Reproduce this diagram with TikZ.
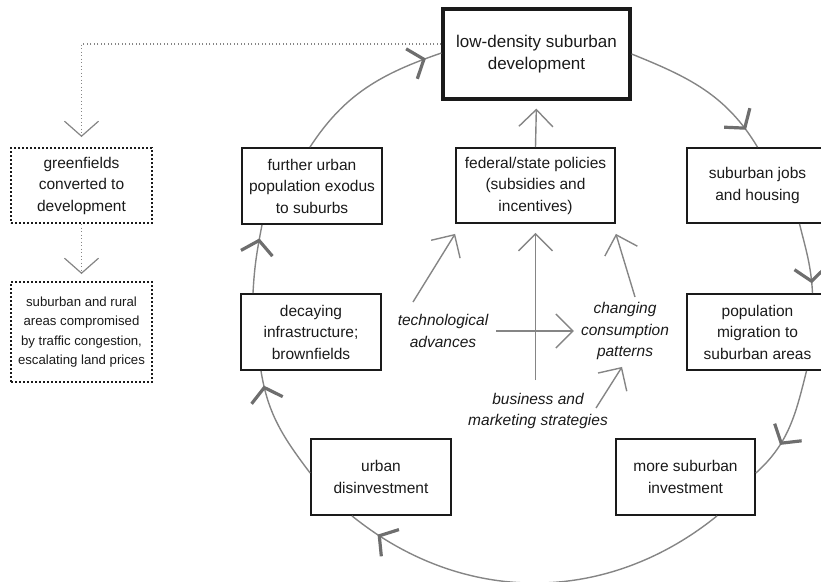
\documentclass[tikz,border=0pt]{standalone}
\usepackage{fontspec}
\setmainfont{Liberation Sans}
\usetikzlibrary{arrows.meta,decorations.markings}
\definecolor{lgray}{HTML}{858585}
\definecolor{agray}{HTML}{6e6e6e}
\definecolor{bk}{HTML}{1a1a1a}
\begin{document}
\begin{tikzpicture}[x=1pt,y=1pt,
  box/.style={draw=bk, line width=1.8pt, align=center, inner sep=0pt, text=bk,
    font=\fontsize{15.5}{21.5}\selectfont},
  dbox/.style={box, dash pattern=on 1.6pt off 2.4pt, line width=2pt},
  lbl/.style={align=center, inner sep=0pt, text=bk, font=\fontsize{15.5}{21.5}\selectfont\itshape},
  cyc/.style={draw=lgray, line width=1.4pt, postaction={decorate},
    decoration={markings, mark=at position #1 with {\arrow{Straight Barb[length=13pt,width=32pt,line width=3.2pt,color=agray]}}}},
  inarr/.style={draw=lgray, line width=1.4pt, -{Straight Barb[length=17pt,width=34pt]}},
  dline/.style={draw=lgray, line width=1.2pt, dash pattern=on 1pt off 2.5pt,
    -{Straight Barb[length=15pt,width=34pt,line width=1.2pt]}},
]
\useasboundingbox (0,0) rectangle (821,-581);

% boxes
\node[box, line width=3.2pt, minimum width=187pt, minimum height=90pt,
  font=\fontsize{17}{22}\selectfont] (low) at (536.5,-54) {low-density suburban\\development};
\node[box, minimum width=159pt, minimum height=75pt] (fed) at (535.5,-185.5)
  {federal/state policies\\(subsidies and\\incentives)};
\node[box, minimum width=141pt, minimum height=75pt] (jobs) at (757.5,-185.5)
  {suburban jobs\\and housing};
\node[box, minimum width=140pt, minimum height=76pt] (further) at (312,-186)
  {further urban\\population exodus\\to suburbs};
\node[dbox, minimum width=141pt, minimum height=75pt] (green) at (81.5,-185.5)
  {greenfields\\converted to\\development};
\node[dbox, minimum width=141pt, minimum height=100pt, font=\fontsize{13.2}{19.5}\selectfont]
  (rural) at (81.5,-332)
  {suburban and rural\\areas compromised\\by traffic congestion,\\escalating land prices};
\node[box, minimum width=140pt, minimum height=76pt] (decay) at (311,-332)
  {decaying\\infrastructure;\\brownfields};
\node[box, minimum width=140pt, minimum height=76pt] (urbdis) at (381,-477)
  {urban\\disinvestment};
\node[box, minimum width=141pt, minimum height=76pt] (pop) at (757.5,-332)
  {population\\migration to\\suburban areas};
\node[box, minimum width=139pt, minimum height=76pt] (more) at (685.5,-477)
  {more suburban\\investment};

% italic labels
\node[lbl] (tech) at (443,-331) {technological\\advances};
\node[lbl] (chg) at (625,-331) {changing\\consumption\\patterns};
\node[lbl] (bus) at (538,-411) {business and\\marketing strategies};

% cycle
\draw[cyc=0.87] (low.east) to[out=-22,in=121] (jobs.north);
\draw[cyc=0.86] ([xshift=42pt]jobs.south) to[out=-76,in=93] ([xshift=55pt]pop.north);
\draw[cyc=0.68] ([xshift=49pt]pop.south) to[out=-104,in=42] ([yshift=4pt]more.east);
\draw[cyc=0.92] ([xshift=31.5pt]more.south) to[out=-141,in=-39] ([xshift=-29pt]urbdis.south);
\draw[cyc=0.87] ([yshift=4pt]urbdis.west) to[out=127,in=-81] ([xshift=-50pt]decay.south);
\draw[cyc=0.8] ([xshift=-58pt]decay.north) to[out=87,in=-101] ([xshift=-50pt]further.south);
\draw[cyc=0.9] ([xshift=-2pt]further.north) to[out=57,in=199] ([yshift=1pt]low.west);

% inner arrows
\coordinate (v1) at (535.5,-380);
\coordinate (t1) at (413,-302);
\coordinate (c1) at (635,-297);
\coordinate (b1) at (596,-408);
\draw[inarr, shorten >=8pt] (fed.north) -- (low.south);
\draw[inarr, shorten >=9pt] (v1) -- (fed.south);
\draw[inarr, shorten <=8pt, shorten >=7pt] (tech.east) -- (chg.west);
\draw[inarr] (t1) -- ([yshift=-10pt]fed.south west);
\draw[inarr] (c1) -- ([yshift=-10pt]fed.south east);
\draw[inarr] (b1) -- ([xshift=-3pt,yshift=-7pt]chg.south);

% dotted feedback
\draw[dline, shorten >=10pt] ([yshift=10pt]low.west) -| (green.north);
\draw[dline, shorten >=7pt] (green.south) -- (rural.north);
\end{tikzpicture}
\end{document}
